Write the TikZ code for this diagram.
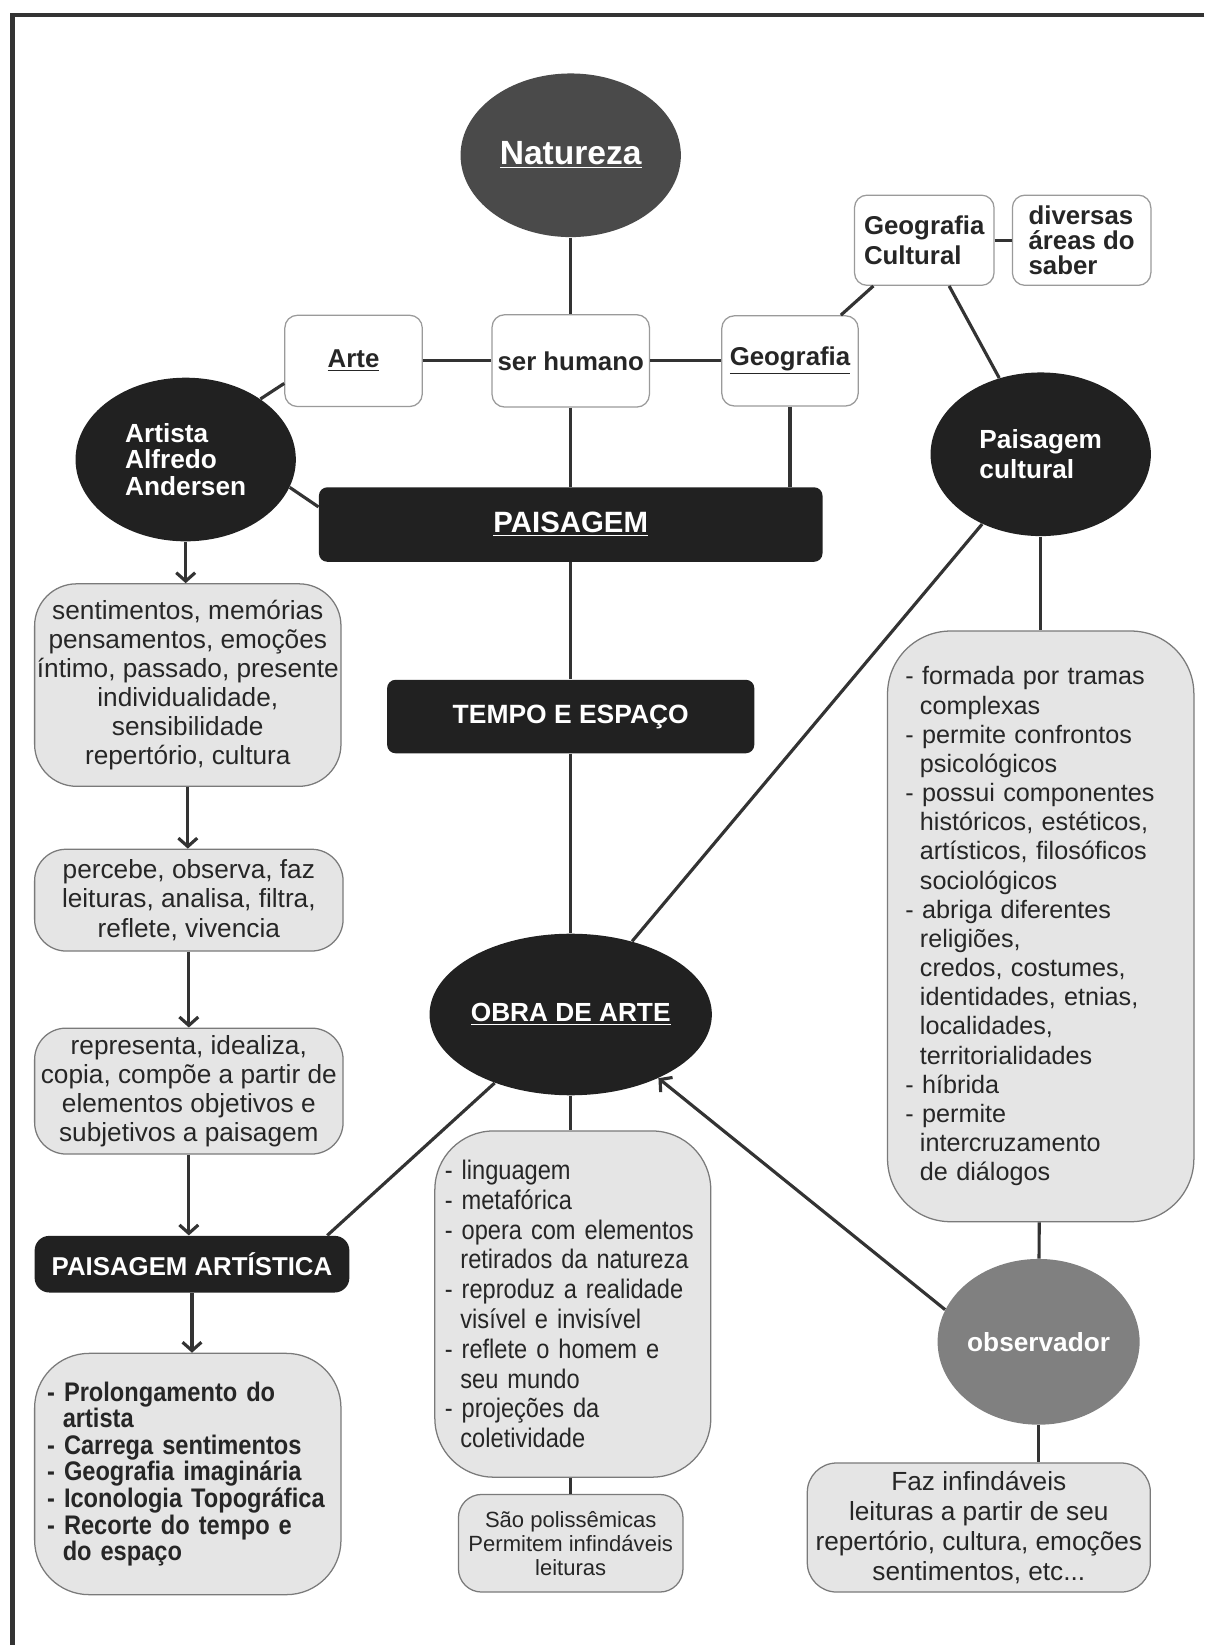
\documentclass[tikz,border=0pt]{standalone}
\usepackage{fontspec}
\setmainfont{Liberation Sans}
\newfontfamily\narrowfont[FakeStretch=0.88]{Liberation Sans}
\usetikzlibrary{shapes.geometric,arrows.meta}

\hyphenpenalty=10000
\exhyphenpenalty=10000

\definecolor{darkfill}{HTML}{212121}
\definecolor{natfill}{HTML}{4A4A4A}
\definecolor{obsfill}{HTML}{808080}
\definecolor{lightfill}{HTML}{E5E5E5}
\definecolor{gline}{HTML}{7A7A7A}
\definecolor{wline}{HTML}{9A9A9A}
\definecolor{linec}{HTML}{333333}
\definecolor{textc}{HTML}{262626}

\newcommand\ind{\hspace*{0.58em}}

\tikzset{
  elli/.style={ellipse,inner sep=0pt,text=white,font=\bfseries\fontsize{12.5}{14}\selectfont},
  wbox/.style={draw=wline,fill=white,rounded corners=6pt,line width=0.6pt,inner sep=0pt,text=textc,font=\bfseries\fontsize{12.3}{14}\selectfont},
  gbox/.style={draw=gline,fill=lightfill,line width=0.6pt,inner sep=0pt,text=textc,font=\fontsize{12.5}{13.9}\selectfont},
  dbox/.style={fill=darkfill,rounded corners=4pt,inner sep=0pt,text=white,font=\bfseries\fontsize{12.6}{15}\selectfont},
  link/.style={draw=linec,line width=1.5pt},
  arr/.style={link,-{Straight Barb[length=4pt,width=9pt]}}
}

\begin{document}
\begin{tikzpicture}[x=0.5pt,y=-0.5pt]

\useasboundingbox (0,0) rectangle (1148,1568);
\draw[line width=2pt,color=linec] (1148,14) -- (12,14) -- (12,1568);

\node[elli,fill=natfill,minimum width=105pt,minimum height=78pt,font=\bfseries\fontsize{16}{18}\selectfont] at (544,148) (Nat) {\underline{Natureza}};
\node[wbox,minimum width=65.5pt,minimum height=43.5pt] at (337,344) (Arte) {\underline{Arte}};
\node[wbox,minimum width=75pt,minimum height=44pt] at (544,344) (Hum) {ser humano};
\node[wbox,minimum width=65pt,minimum height=43pt] at (753,344) (Geo) {\underline{Geografia}};
\node[wbox,minimum width=66.5pt,minimum height=43pt,align=left] at (881,229) (GeoC) {Geografia\\Cultural};
\node[wbox,minimum width=66pt,minimum height=43pt,align=left,font=\bfseries\fontsize{12.3}{12}\selectfont] at (1031,229) (Areas) {diversas\\áreas do\\saber};

\node[elli,fill=darkfill,minimum width=105pt,minimum height=78pt,align=left,font=\bfseries\fontsize{12.5}{12.5}\selectfont] at (177,438) (Art) {Artista\\Alfredo\\Andersen};
\node[elli,fill=darkfill,minimum width=105pt,minimum height=78pt,align=left,font=\bfseries\fontsize{12.5}{14.5}\selectfont] at (992,433) (PaisC) {Paisagem\\cultural};
\node[dbox,minimum width=240pt,minimum height=35.5pt,font=\bfseries\fontsize{14}{16}\selectfont] at (544,500) (Pais) {\underline{PAISAGEM}};
\node[dbox,minimum width=175pt,minimum height=35pt] at (544,683) (Tempo) {TEMPO E ESPAÇO};
\node[elli,fill=darkfill,minimum width=104pt,minimum height=77pt] at (544,967) (Obra) {\underline{OBRA DE ARTE}};

\node[gbox,rounded corners=20pt,minimum width=146pt,minimum height=96.5pt,align=center] at (179,653) (Sent) {sentimentos, memórias\\pensamentos, emoções\\íntimo, passado, presente\\individualidade,\\sensibilidade\\repertório, cultura};
\node[gbox,rounded corners=15pt,minimum width=147pt,minimum height=48.5pt,align=center] at (180,858) (Perc) {percebe, observa, faz\\leituras, analisa, filtra,\\reflete, vivencia};
\node[gbox,rounded corners=15pt,minimum width=147pt,minimum height=60pt,align=center] at (180,1040) (Rep) {representa, idealiza,\\copia, compõe a partir de\\elementos objetivos e\\subjetivos a paisagem};
\node[dbox,rounded corners=7pt,minimum width=150pt,minimum height=27pt,font=\bfseries\fontsize{12.3}{14}\selectfont] at (183,1205) (PA) {PAISAGEM ARTÍSTICA};
\node[gbox,rounded corners=26pt,minimum width=146pt,minimum height=115pt,text width=134pt,align=left,font=\narrowfont\bfseries\fontsize{12.8}{12.7}\selectfont] at (179,1405) (Prol) {- Prolongamento do\\\ind artista\\- Carrega sentimentos\\- Geografia imaginária\\- Iconologia Topográfica\\- Recorte do tempo e\\\ind do espaço};

\node[gbox,rounded corners=28pt,minimum width=131.5pt,minimum height=165pt,text width=122pt,align=left,font=\narrowfont\fontsize{12.8}{14.2}\selectfont] at (546,1243) (Ling) {- linguagem\\- metafórica\\- opera com elementos\\\ind retirados da natureza\\- reproduz a realidade\\\ind visível e invisível\\- reflete o homem e\\\ind seu mundo\\- projeções da\\\ind coletividade};
\node[gbox,rounded corners=11pt,minimum width=107pt,minimum height=46.5pt,align=center,font=\fontsize{10.5}{11.5}\selectfont] at (544,1471) (Sao) {São polissêmicas\\Permitem infindáveis\\leituras};

\node[gbox,rounded corners=30pt,minimum width=146pt,minimum height=281.5pt,text width=129pt,align=left,font=\fontsize{12}{13.9}\selectfont] at (992,883) (Form) {- formada por tramas\\\ind complexas\\- permite confrontos\\\ind psicológicos\\- possui componentes\\\ind históricos, estéticos,\\\ind artísticos, filosóficos\\\ind sociológicos\\- abriga diferentes\\\ind religiões,\\\ind credos, costumes,\\\ind identidades, etnias,\\\ind localidades,\\\ind territorialidades\\- híbrida\\- permite\\\ind intercruzamento\\\ind de diálogos};
\node[elli,fill=obsfill,minimum width=93pt,minimum height=79pt] at (990,1279) (Obs) {observador};
\node[gbox,rounded corners=14pt,minimum width=163.5pt,minimum height=61.5pt,align=center,font=\fontsize{12.5}{14.2}\selectfont] at (933,1456) (Faz) {Faz infindáveis\\leituras a partir de seu\\repertório, cultura, emoções\\sentimentos, etc...};

\draw[link] (Nat) -- (Hum);
\draw[link] (Arte) -- (Hum);
\draw[link] (Hum) -- (Geo);
\draw[link] (GeoC) -- (Areas);
\draw[link] (GeoC) -- (Geo);
\draw[link] (GeoC) -- (PaisC);
\draw[link] (Arte.198) -- (Art.39);
\draw[link] (Art.-15) -- (Pais.176);
\draw[link] (Hum) -- (Pais);
\draw[link] (Geo) -- (Geo |- Pais.north);
\draw[link] (Pais) -- (Tempo);
\draw[link] (Tempo) -- (Obra);
\draw[link] (PaisC) -- (Obra);
\draw[link] (PaisC) -- (Form);
\draw[link] (Form) -- (Obs);
\draw[link] (Obs) -- (Obs |- Faz.north);
\draw[link] (Obra) -- (Obra |- Ling.north);
\draw[link] (Sao |- Ling.south) -- (Sao);
\draw[link] (PA.12) -- (Obra.222);
\draw[arr] (Obs.161) -- (Obra.-36);

\draw[arr] (Art) -- (Art |- Sent.north);
\draw[arr] (Sent) -- (Sent |- Perc.north);
\draw[arr] (Perc) -- (Perc |- Rep.north);
\draw[arr] (Rep) -- (Rep |- PA.north);
\draw[arr] (PA) -- (PA |- Prol.north);

\end{tikzpicture}
\end{document}
